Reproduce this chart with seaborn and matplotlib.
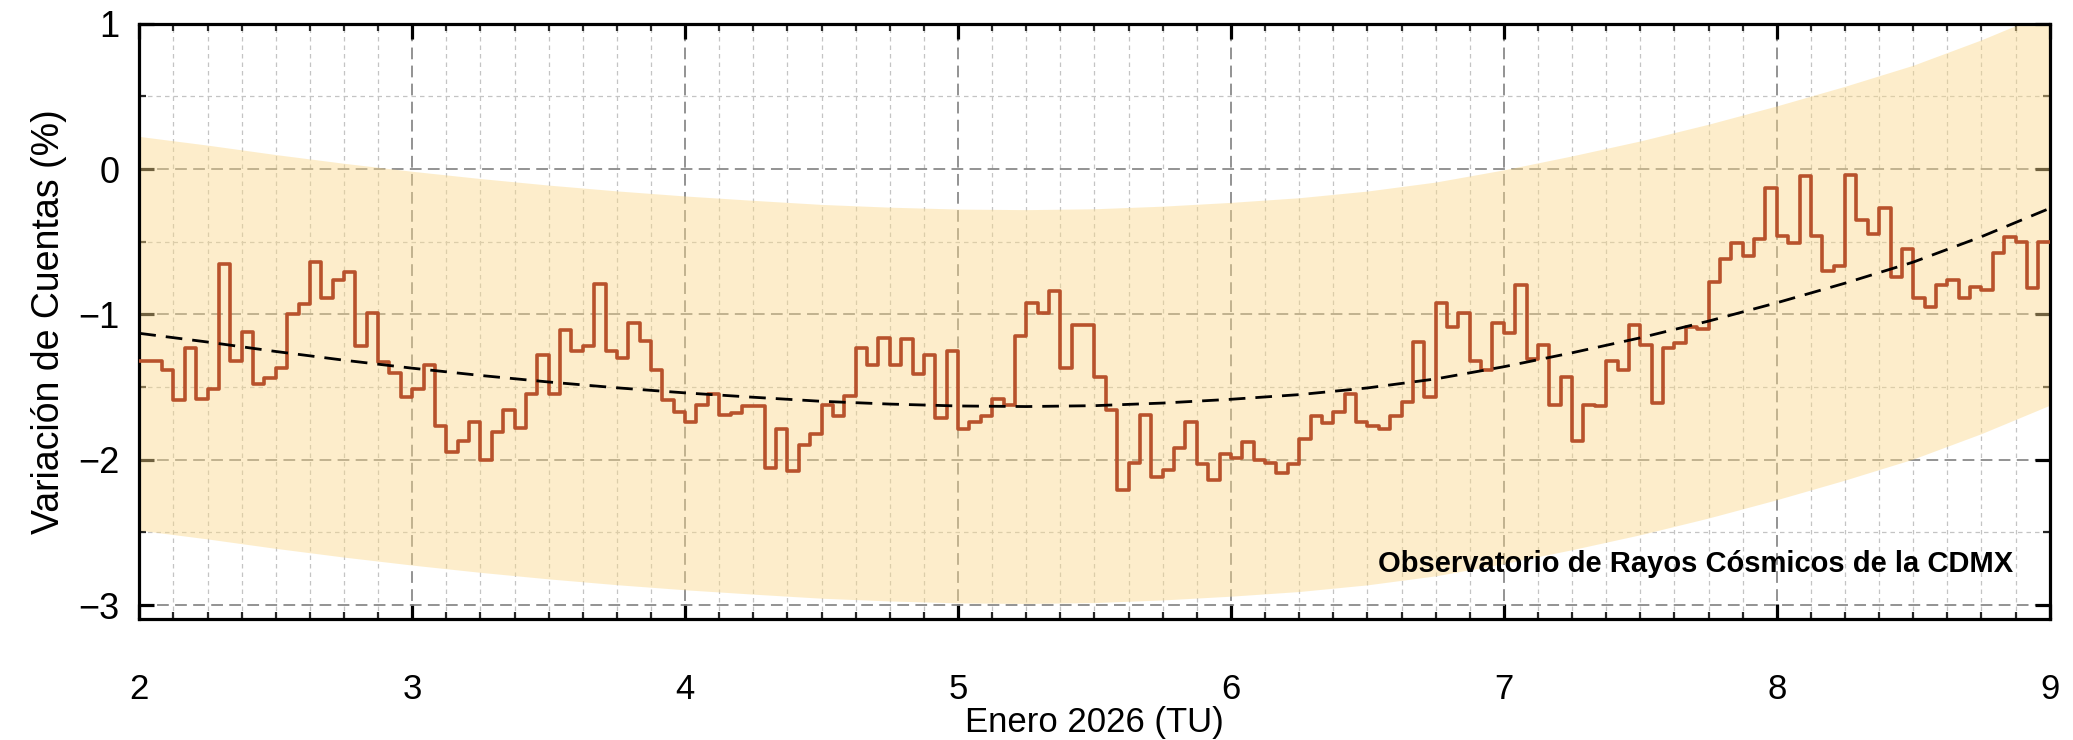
import numpy as np
import pandas as pd
import matplotlib
matplotlib.use("Agg")
import matplotlib.pyplot as plt
from matplotlib.ticker import MultipleLocator
import seaborn as sns

# ---------------- data (hourly count variation, %) ----------------
day2 = [-1.32, -1.32, -1.38, -1.59, -1.23, -1.58, -1.51, -0.65, -1.32, -1.12, -1.48, -1.44,
        -1.37, -1.00, -0.93, -0.64, -0.89, -0.76, -0.71, -1.22, -0.99, -1.33, -1.40, -1.57]
day3 = [-1.51, -1.35, -1.77, -1.95, -1.87, -1.74, -2.00, -1.81, -1.66, -1.78, -1.55, -1.28,
        -1.55, -1.11, -1.25, -1.22, -0.79, -1.25, -1.30, -1.06, -1.18, -1.38, -1.59, -1.67]
day4 = [-1.74, -1.62, -1.55, -1.69, -1.68, -1.63, -1.63, -2.06, -1.79, -2.08, -1.90, -1.82,
        -1.62, -1.70, -1.56, -1.23, -1.35, -1.16, -1.35, -1.17, -1.41, -1.28, -1.71, -1.25]
day5 = [-1.79, -1.74, -1.70, -1.58, -1.62, -1.15, -0.92, -0.99, -0.84, -1.37, -1.07, -1.07,
        -1.43, -1.66, -2.21, -2.02, -1.69, -2.12, -2.07, -1.92, -1.74, -2.03, -2.14, -1.96]
day6 = [-1.99, -1.88, -2.00, -2.02, -2.09, -2.03, -1.86, -1.70, -1.75, -1.67, -1.55, -1.74,
        -1.77, -1.79, -1.70, -1.60, -1.19, -1.57, -0.92, -1.09, -0.99, -1.32, -1.38, -1.06]
day7 = [-1.13, -0.80, -1.31, -1.21, -1.62, -1.43, -1.87, -1.62, -1.63, -1.32, -1.38, -1.07,
        -1.21, -1.61, -1.23, -1.20, -1.09, -1.10, -0.78, -0.62, -0.51, -0.60, -0.48, -0.13]
day8 = [-0.46, -0.51, -0.05, -0.46, -0.70, -0.67, -0.04, -0.35, -0.45, -0.27, -0.74, -0.55,
        -0.89, -0.95, -0.80, -0.76, -0.89, -0.81, -0.83, -0.58, -0.47, -0.50, -0.82, -0.50]

first_day = 2
hours_per_day = 24

# trend curve and its band, read at quarter-day steps
trend_x = [2.0, 2.25, 2.5, 2.75, 3.0, 3.25, 3.5, 3.75, 4.0, 4.25, 4.5, 4.75, 5.0, 5.25, 5.5,
           5.75, 6.0, 6.25, 6.5, 6.75, 7.0, 7.25, 7.5, 7.75, 8.0, 8.25, 8.5, 8.75, 9.0]
trend_y = [-1.13, -1.19, -1.255, -1.315, -1.37, -1.42, -1.465, -1.505, -1.54, -1.57, -1.598,
           -1.617, -1.630, -1.634, -1.628, -1.61, -1.584, -1.552, -1.506, -1.444, -1.36,
           -1.264, -1.161, -1.046, -0.92, -0.785, -0.64, -0.465, -0.27]
band_upper = [0.225, 0.165, 0.10, 0.04, -0.015, -0.065, -0.11, -0.15, -0.185, -0.215, -0.243,
              -0.262, -0.275, -0.279, -0.273, -0.255, -0.229, -0.197, -0.151, -0.089, -0.005,
              0.091, 0.194, 0.309, 0.435, 0.57, 0.715, 0.89, 1.085]
band_lower = [-2.485, -2.545, -2.61, -2.67, -2.725, -2.775, -2.82, -2.86, -2.895, -2.925, -2.953,
              -2.972, -2.985, -2.989, -2.983, -2.965, -2.939, -2.907, -2.861, -2.799, -2.715,
              -2.619, -2.516, -2.401, -2.275, -2.14, -1.995, -1.82, -1.625]

x_ticks = [2, 3, 4, 5, 6, 7, 8, 9]
y_ticks = [-3, -2, -1, 0, 1]

xlabel = "Enero 2026 (TU)"
ylabel = "Variación de Cuentas (%)"
note = "Observatorio de Rayos Cósmicos de la CDMX"

# ---------------- build tables ----------------
values = day2 + day3 + day4 + day5 + day6 + day7 + day8
n = len(values)
edges = first_day + np.arange(n + 1) / hours_per_day
steps = pd.DataFrame({"t": edges, "v": values + [values[-1]]})
trend = pd.DataFrame({"t": trend_x, "v": trend_y})

# ---------------- style ----------------
sns.set_theme(style="white")
plt.rcParams["font.family"] = ["Liberation Sans", "DejaVu Sans"]
plt.rcParams["axes.unicode_minus"] = True

fig = plt.figure(figsize=(20.73, 7.40), dpi=100)
ax = fig.add_axes([139.3 / 2073, 121.3 / 740, 1910.4 / 2073, 594.9 / 740])

ax.fill_between(trend_x, band_lower, band_upper, color="#fbd98c", alpha=0.45,
                linewidth=0, zorder=1)

sns.lineplot(data=steps, x="t", y="v", ax=ax, drawstyle="steps-post",
             color="#b8522c", linewidth=2.6, errorbar=None, sort=False, zorder=3)
sns.lineplot(data=trend, x="t", y="v", ax=ax, color="black", linewidth=2.0,
             errorbar=None, sort=False, zorder=4, dashes=False,
             linestyle=(0, (6.0, 3.6)))

ax.set_xlim(2, 9)
ax.set_ylim(-3.094, 1.0)
ax.set_xticks(x_ticks)
ax.set_yticks(y_ticks)
ax.xaxis.set_minor_locator(MultipleLocator(0.125))
ax.yaxis.set_minor_locator(MultipleLocator(0.5))

ax.set_axisbelow(True)
ax.grid(which="major", color="#8a8a8a", linewidth=1.3, linestyle=(0, (6.5, 3.5)))
ax.grid(which="minor", color="#c4c4c4", linewidth=0.9, linestyle=(0, (3.6, 3.2)))

for s in ax.spines.values():
    s.set_color("black")
    s.set_linewidth(2.3)
    s.set_visible(True)

ax.tick_params(which="major", direction="in", length=11, width=2.3, top=True, right=True,
               bottom=True, left=True, labelsize=25, colors="black")
ax.tick_params(which="minor", direction="in", length=5, width=1.6, top=True, right=True,
               bottom=True, left=True)
ax.tick_params(axis="x", which="major", pad=39)
ax.tick_params(axis="y", which="major", pad=14, labelsize=26)

ax.set_xlabel(xlabel, fontsize=25, color="black")
ax.set_ylabel(ylabel, fontsize=27, color="black")
ax.xaxis.set_label_coords(0.5, -0.1475)
ax.yaxis.set_label_coords(-0.038, 0.5)

ax.text(0.981, 0.092, note, transform=ax.transAxes, ha="right", va="center",
        fontsize=21, fontweight="bold", color="black", zorder=5)

fig.savefig("out.png", dpi=100)
